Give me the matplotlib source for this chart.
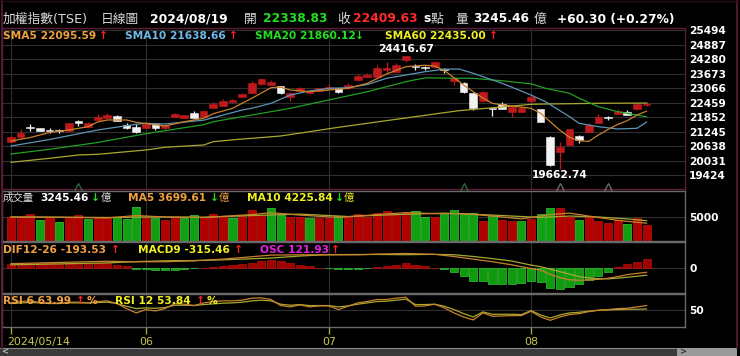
import numpy as np
import matplotlib
matplotlib.use("Agg")
import matplotlib.pyplot as plt
from matplotlib.patches import Rectangle
from matplotlib.lines import Line2D
from matplotlib.transforms import ScaledTranslation

plt.rcParams['font.family'] = ['DejaVu Sans', 'Noto Sans CJK TC']

# ---------------- data ----------------
opens = [20818, 21002, 21385, 21379, 21285, 21290, 21266, 21697, 21421, 21714,
         21798, 21881, 21517, 21421, 21404, 21547, 21379, 21865, 21823, 22007,
         21865, 22241, 22313, 22467, 22689, 22869, 23221, 23192, 23150, 22702,
         22953, 22869, 22941, 23024, 23054, 23054, 23388, 23539, 23539, 23820,
         23748, 24238, 23970, 23925, 23933, 23830, 23372, 23288, 22844, 22522,
         22195, 22384, 22049, 22074, 22535, 22175, 21028, 20375, 20680, 21069,
         21237, 21614, 21830, 21978, 22074, 22175, 22338.83]
closes = [21028, 21195, 21379, 21279, 21279, 21279, 21588, 21614, 21588, 21865,
          21936, 21685, 21379, 21212, 21547, 21379, 21517, 21965, 21923, 21823,
          22103, 22384, 22522, 22564, 22802, 23263, 23430, 23305, 22844, 22869,
          23079, 22953, 23054, 23095, 22911, 23192, 23568, 23610, 23916, 23916,
          24029, 24390, 23958, 23916, 24142, 23820, 23472, 22886, 22241, 22911,
          22187, 22187, 22283, 22241, 22702, 21655, 19830, 20584, 21337, 20889,
          21517, 21865, 21823, 22103, 21936, 22396, 22409.63]
highs = [21070, 21337, 21547, 21400, 21379, 21360, 21600, 21710, 21655, 21965,
         22007, 21936, 21588, 21560, 21570, 21560, 21530, 22032, 21950, 22103,
         22130, 22493, 22606, 22600, 22869, 23359, 23472, 23400, 23170, 22890,
         23120, 22970, 23080, 23221, 23070, 23263, 23640, 23680, 24029, 24142,
         24100, 24416.67, 24058, 24000, 24180, 23900, 23490, 23300, 22860, 22930,
         22241, 22493, 22354, 22313, 22773, 22190, 21040, 20818, 21350, 21100,
         21588, 21965, 21906, 22187, 22145, 22420, 22460]
lows = [20790, 20990, 21266, 21260, 21170, 21190, 21250, 21488, 21410, 21700,
        21790, 21670, 21370, 21200, 21390, 21307, 21307, 21850, 21810, 21810,
        21850, 22230, 22300, 22450, 22670, 22850, 23200, 23180, 22830, 22522,
        22940, 22815, 22930, 23010, 22844, 23040, 23370, 23530, 23520, 23640,
        23730, 24167, 23820, 23840, 23910, 23700, 23192, 22870, 22145, 22500,
        21894, 22170, 21840, 22060, 22450, 21640, 19800, 19662.74, 20660, 20750,
        21220, 21600, 21727, 21960, 21920, 22160, 22300]

sma5_idx = [0, 2, 4, 6, 8, 9, 10, 12, 13, 14, 16, 18, 20, 21, 23, 25, 27, 28, 29, 31,
            33, 35, 37, 39, 41, 43, 44, 45, 47, 48, 49, 50, 52, 54, 55, 56, 57, 58, 59, 60,
            61, 62, 63, 64, 65, 66]
sma5 = [20848, 20994, 21203, 21308, 21446, 21643, 21727, 21727, 21630, 21580,
        21475, 21655, 21798, 21990, 22216, 22635, 23080, 23100, 22982, 22911,
        22982, 23054, 23263, 23650, 23958, 24020, 23980, 23800, 23192, 22911,
        22650, 22420, 22313, 22216, 22007, 21650, 21300, 21000, 20860, 20830,
        21099, 21330, 21540, 21700, 21936, 22095.59]
sma10_idx = [0, 4, 9, 13, 14, 16, 20, 21, 24, 25, 27, 29, 31, 33, 35, 37, 39, 41, 43, 45,
             46.5, 48, 51, 54, 55.5, 58, 59, 61, 63, 65, 66]
sma10 = [20638, 20910, 21308, 21547, 21588, 21559, 21720, 21823, 22145, 22216,
         22426, 22773, 22941, 23054, 23079, 23213, 23472, 23610, 23748, 23853,
         23861, 23681, 23263, 22773, 22493, 21865, 21588, 21446, 21350, 21379, 21638.66]
sma20_idx = [0, 4, 9, 14, 16, 20, 21, 24, 25, 29, 33, 37, 41, 43, 45, 48, 51, 54, 55.5, 58,
             59, 61, 63, 65, 66]
sma20 = [20303, 20500, 20785, 21153, 21279, 21530, 21655, 21865, 21936, 22216,
         22564, 22911, 23330, 23490, 23480, 23470, 23370, 23240, 23054, 22844,
         22635, 22283, 22074, 21936, 21860.12]
sma60_idx = [0, 4, 7, 9, 14, 16, 20, 21, 24, 25, 28, 31, 34, 37, 40, 42.5, 44.5, 46.5, 48.5, 51,
             54, 55.5, 58, 61, 63, 66]
sma60 = [19956, 20123, 20262, 20291, 20471, 20584, 20680, 20818, 20931, 20960,
         21057, 21237, 21421, 21588, 21756, 21894, 22007, 22116, 22187, 22271,
         22384, 22396, 22409, 22426, 22430, 22435.00]

volumes = [5062, 5062, 5562, 4437, 4937, 4020, 4728, 5416, 4520, 4999,
           4999, 5062, 4520, 7145, 4728, 4853, 4437, 4937, 4728, 5416,
           4937, 5562, 5270, 4853, 5270, 6457, 5416, 6811, 5416, 4937,
           4937, 4853, 4728, 4728, 5270, 5062, 5624, 5062, 5895, 6312,
           5562, 5978, 6249, 4999, 5062, 5770, 6395, 5895, 5895, 4229,
           5208, 4437, 4166, 4229, 4583, 5562, 6936, 6811, 4937, 4374,
           4999, 4229, 3749, 4374, 3479, 4728, 3245.46]
vol_up = [1, 1, 1, 0, 1, 0, 1, 1, 0, 1,
          1, 0, 0, 0, 1, 0, 1, 1, 0, 0,
          1, 1, 1, 0, 1, 1, 1, 0, 0, 1,
          1, 0, 1, 1, 0, 1, 1, 1, 1, 1,
          1, 1, 0, 0, 1, 0, 0, 0, 0, 1,
          0, 1, 1, 0, 1, 0, 0, 1, 1, 0,
          1, 1, 1, 1, 0, 1, 1]
vma5_idx = [0, 5, 10, 13, 16, 20, 25, 27, 30, 34, 38, 41, 44, 47, 50, 53, 56, 58, 61, 63, 66]
vma5 = [5000, 4950, 4800, 5300, 5000, 4900, 5500, 5900, 5400, 4900,
        5500, 5900, 5700, 5700, 5200, 4600, 5500, 5800, 4900, 4300, 3699.61]
vma10_idx = [0, 5, 10, 15, 20, 25, 30, 35, 40, 45, 50, 55, 58, 61, 64, 66]
vma10 = [5000, 4950, 4900, 5000, 4950, 5300, 5600, 5100, 5500, 5800,
         5400, 4900, 5200, 5000, 4600, 4225.84]

osc = [49, 59, 74, 74, 74, 54, 63, 63, 59, 63,
       63, 44, 19, -15, -25, -34, -40, -29, -19, -10,
       2, 15, 29, 44, 54, 74, 103, 113, 103, 74,
       44, 19, 2, -10, -19, -25, -15, -5, 15, 29,
       34, 63, 44, 25, 2, -25, -63, -118, -191, -191,
       -240, -245, -245, -231, -191, -206, -294, -319, -279, -245,
       -181, -118, -59, 15, 54, 88, 121.93]
macd_idx = [0, 5, 10, 13, 16, 19, 22, 25, 27, 30, 33, 36, 38, 41, 44, 46, 48, 50, 52, 54,
            55, 56, 57, 58, 59, 60, 61, 62, 63, 64, 65, 66]
dif = [170, 220, 270, 250, 250, 290, 360, 460, 530, 540, 540, 540, 570, 600, 560, 470,
       360, 250, 120, -40, -100, -280, -420, -510, -530, -515, -490, -440, -375, -290,
       -240, -193.53]
macd9 = [120, 160, 200, 255, 290, 300, 330, 375, 405, 490, 550, 555, 555, 545, 560, 545,
         470, 380, 280, 110, 40, -60, -168, -270, -378, -430, -460, -470, -440, -400,
         -360, -315.46]

rsi6 = [72, 76, 78, 73, 70, 70, 74, 74, 72, 76,
        78, 70, 55, 42, 52, 48, 55, 70, 68, 64,
        72, 76, 78, 78, 80, 86, 87, 82, 64, 60,
        66, 60, 63, 63, 52, 62, 72, 76, 82, 82,
        86, 89, 62, 63, 68, 57, 42, 30, 21, 42,
        32, 33, 34, 34, 47, 30, 20, 30, 37, 40,
        46, 50, 52, 55, 56, 60, 63.99]
rsi12 = [70, 72, 73, 72, 71, 71, 72, 72, 72, 73,
         74, 70, 62, 55, 57, 56, 58, 65, 65, 64,
         67, 69, 71, 72, 74, 78, 80, 78, 68, 65,
         67, 64, 64, 64, 60, 63, 68, 72, 76, 77,
         80, 83, 67, 67, 68, 62, 52, 40, 30, 45,
         38, 38, 38, 37, 49, 36, 27, 36, 42, 44,
         47, 50, 51, 52, 53, 53, 53.84]

price_ticks = [19424, 20031, 20638, 21245, 21852, 22459, 23066, 23673, 24280, 24887, 25494]
month_idx = [0, 14, 33, 54]
month_labels = ['2024/05/14', '06', '07', '08']
event_idx = [7, 47, 57, 62]

# ---------------- styling ----------------
RED = '#c0191c'
WHITE = '#f2f2f2'
VRED, VGREEN = '#b00000', '#11a011'
C_ORANGE_T, C_BLUE_T, C_GREEN_T, C_YELLOW_T = '#f0a040', '#70b8e8', '#22e022', '#f0f020'
C_ORANGE, C_BLUE, C_GREEN, C_YELLOW = '#c8822e', '#5c94b4', '#22a022', '#a8a830'
ARROW_UP, ARROW_DN = '#ff2020', '#22dd22'
MAROON = '#5a1c36'
PANEL = '#6a6a6a'
GRID = '#303030'

W, H = 740, 356
fig = plt.figure(figsize=(W / 100, H / 100), dpi=100, facecolor='black')


def ax_at(x0, y0, x1, y1, spine=PANEL):
    a = fig.add_axes([x0 / W, 1 - y1 / H, (x1 - x0) / W, (y1 - y0) / H])
    a.set_facecolor('black')
    for s in a.spines.values():
        s.set_color(spine)
        s.set_linewidth(1)
    a.set_xlim(-0.935, 69.99)
    a.set_xticks(month_idx)
    a.tick_params(axis='x', length=0, labelbottom=False)
    a.yaxis.tick_right()
    a.tick_params(axis='y', length=0, pad=3, labelcolor='white', labelsize=7.7)
    a.grid(True, color=GRID, lw=0.8, zorder=0)
    a.set_axisbelow(True)
    return a


def ftext(x, y, s, color, size=7.7, weight='bold'):
    fig.text(x / W, 1 - y / H, s, color=color, fontsize=size, fontweight=weight,
             ha='left', va='center')


n = len(closes)
idx = np.arange(n)
o = np.array(opens)
c = np.array(closes)

# ---------------- price panel ----------------
ax_p = ax_at(2, 28, 685, 189, spine=MAROON)
ax_p.set_ylim(18838, 25578)
ax_p.set_yticks(price_ticks)
up = c > o
ccol = [RED if u else WHITE for u in up]
ax_p.vlines(idx, lows, highs, colors=ccol, lw=0.9, zorder=2)
ax_p.bar(idx, np.maximum(np.abs(c - o), 40), bottom=np.minimum(o, c), width=0.8,
         color=ccol, edgecolor=ccol, lw=0.4, zorder=2)
ax_p.plot(sma60_idx, sma60, color=C_YELLOW, lw=0.9, zorder=3)
ax_p.plot(sma20_idx, sma20, color=C_GREEN, lw=0.9, zorder=3)
ax_p.plot(sma10_idx, sma10, color=C_BLUE, lw=0.9, zorder=3)
ax_p.plot(sma5_idx, sma5, color=C_ORANGE, lw=0.9, zorder=3)

ih = int(np.argmax(highs))
il = int(np.argmin(lows))
ax_p.annotate(f'{highs[ih]:.2f}', xy=(ih, highs[ih]), xytext=(0, 5), textcoords='offset points',
              ha='center', va='center', color='white', fontsize=7.7, fontweight='bold')
ax_p.annotate(f'{lows[il]:.2f}', xy=(il, lows[il]), xytext=(0, -4.3), textcoords='offset points',
              ha='center', va='center', color='white', fontsize=7.7, fontweight='bold')
ev_col = ['#2e6e3e', '#2e6e3e', '#707070', '#707070']
for k, e in enumerate(event_idx):
    ax_p.plot(e, 0.015, marker='^', ms=6, mfc='none', mec=ev_col[k], mew=0.9,
              transform=ax_p.get_xaxis_transform(), clip_on=False, zorder=4)

# ---------------- volume panel ----------------
ax_v = ax_at(2, 191, 685, 241)
ax_v.set_ylim(0, 10415)
ax_v.set_yticks([5000])
vcol = [VRED if u else VGREEN for u in vol_up]
vedge = ['#c81010' if u else '#3cc83c' for u in vol_up]
ax_v.bar(idx, volumes, width=0.84, color=vcol, edgecolor=vedge, lw=0.5, zorder=2)
ax_v.plot(vma10_idx, vma10, color=C_YELLOW, lw=0.9, zorder=3)
ax_v.plot(vma5_idx, vma5, color=C_ORANGE, lw=0.9, zorder=3)

# ---------------- MACD panel ----------------
ax_h = ax_at(2, 241.5, 685, 292.5)
ax_h.set_ylim(-365, 385)
ax_h.set_yticks([0])
ocol = ['#a00000' if v >= 0 else '#109a10' for v in osc]
oedge = ['#b81010' if v >= 0 else '#38c038' for v in osc]
ax_h.bar(idx, osc, width=0.84, color=ocol, edgecolor=oedge, lw=0.5, zorder=2)
ax_m = fig.add_axes(ax_h.get_position())
ax_m.set_xlim(ax_h.get_xlim())
ax_m.set_ylim(-1042, 1100)
ax_m.axis('off')
ax_m.plot(macd_idx, macd9, color=C_YELLOW, lw=0.9)
ax_m.plot(macd_idx, dif, color=C_ORANGE, lw=0.9)

# ---------------- RSI panel ----------------
ax_r = ax_at(2, 293.5, 685, 327)
ax_r.set_ylim(0, 100)
ax_r.set_yticks([50])
ax_r.plot(idx, rsi12, color=C_YELLOW, lw=0.9, zorder=3)
ax_r.plot(idx, rsi6, color=C_ORANGE, lw=0.9, zorder=3)
ax_r.set_xticks(month_idx)
ax_r.set_xticklabels(month_labels)
ax_r.tick_params(axis='x', length=5, width=1, color='#a8a840', pad=2,
                 labelbottom=True, labelcolor='#c8c850', labelsize=7.9)
lab0 = ax_r.get_xticklabels()[0]
lab0.set_horizontalalignment('left')
lab0.set_transform(lab0.get_transform() + ScaledTranslation(-4 / 100, 0, fig.dpi_scale_trans))

for a in (ax_p, ax_v, ax_h, ax_r):
    for t in a.get_yticklabels():
        t.set_fontweight('bold')

# ---------------- header and legends ----------------
GREY = '#d8d8d8'
hy = 19
HS = 8.8
ftext(3, hy, '加權指數(TSE)', GREY, 9.2, 'normal')
ftext(101, hy, '日線圖', GREY, 9.2, 'normal')
ftext(150, hy, '2024/08/19', 'white', HS)
ftext(244, hy, '開', GREY, 9.2, 'normal')
ftext(263, hy, f'{opens[-1]:.2f}', '#22dd22', HS)
ftext(337, hy, '收', GREY, 9.2, 'normal')
ftext(353, hy, f'{closes[-1]:.2f}', '#ff2a2a', HS)
ftext(423, hy, 's', 'white', HS)
ftext(431, hy, '點', GREY, 9.2, 'normal')
ftext(455, hy, '量', GREY, 9.2, 'normal')
ftext(473, hy, f'{volumes[-1]:.2f}', 'white', HS)
ftext(534, hy, '億', GREY, 9.2, 'normal')
ftext(557, hy, '+60.30 (+0.27%)', 'white', HS)

ly = 36
ftext(3, ly, f'SMA5 {sma5[-1]:.2f}', C_ORANGE_T)
ftext(99, ly, '↑', ARROW_UP)
ftext(125, ly, f'SMA10 {sma10[-1]:.2f}', C_BLUE_T)
ftext(229, ly, '↑', ARROW_UP)
ftext(255, ly, f'SMA20 {sma20[-1]:.2f}', C_GREEN_T)
ftext(355, ly, '↓', ARROW_DN)
ftext(385, ly, f'SMA60 {sma60[-1]:.2f}', C_YELLOW_T)
ftext(489, ly, '↑', ARROW_UP)

vy = 198
ftext(3, vy, '成交量', '#e0e0e0', 7.5, 'normal')
ftext(40, vy, f'{volumes[-1]:.2f}', 'white')
ftext(91, vy, '↓', ARROW_DN)
ftext(101, vy, '億', '#e0e0e0', 7.5, 'normal')
ftext(128, vy, f'MA5 {vma5[-1]:.2f}', C_ORANGE_T)
ftext(210, vy, '↓', ARROW_DN)
ftext(219, vy, '億', C_ORANGE_T, 7.5, 'normal')
ftext(247, vy, f'MA10 {vma10[-1]:.2f}', C_YELLOW_T)
ftext(335, vy, '↓', ARROW_DN)
ftext(344, vy, '億', C_YELLOW_T, 7.5, 'normal')

my = 250
ftext(3, my, f'DIF12-26 {dif[-1]:.2f}', C_ORANGE_T)
ftext(111, my, '↑', ARROW_UP)
ftext(138, my, f'MACD9 {macd9[-1]:.2f}', C_YELLOW_T)
ftext(234, my, '↑', ARROW_UP)
ftext(260, my, f'OSC {osc[-1]:.2f}', '#e020e0')
ftext(331, my, '↑', ARROW_UP)

ry = 301.5
ftext(3, ry, f'RSI 6 {rsi6[-1]:.2f}', C_ORANGE_T)
ftext(76, ry, '↑', ARROW_UP)
ftext(87, ry, '%', C_ORANGE_T)
ftext(115, ry, f'RSI 12 {rsi12[-1]:.2f}', C_YELLOW_T)
ftext(196, ry, '↑', ARROW_UP)
ftext(207, ry, '%', C_YELLOW_T)

# ---------------- frame and bottom strip ----------------
fig.patches.append(Rectangle((0, 0), 677 / W, 8 / H, transform=fig.transFigure,
                             facecolor='#3a3a3a', edgecolor='none'))
fig.patches.append(Rectangle((677 / W, 0), 60 / W, 8 / H, transform=fig.transFigure,
                             facecolor='#9a9a9a', edgecolor='none'))
fig.lines.append(Line2D([0, 677 / W], [8 / H, 8 / H], transform=fig.transFigure,
                        color='#8a8a8a', lw=0.8))
ftext(1, 352, '<', '#c0c0c0', 6)
ftext(679, 352, '>', '#303030', 6)
fig.lines.append(Line2D([1.5 / W, 1.5 / W], [8 / H, 1], transform=fig.transFigure, color=MAROON, lw=1.2))
fig.lines.append(Line2D([737 / W, 737 / W], [8 / H, 1], transform=fig.transFigure, color=MAROON, lw=1.2))
fig.lines.append(Line2D([0, 738 / W], [1 - 0.5 / H, 1 - 0.5 / H], transform=fig.transFigure, color='#2a0c18', lw=1))

fig.savefig('out.png', dpi=100, facecolor='black')
